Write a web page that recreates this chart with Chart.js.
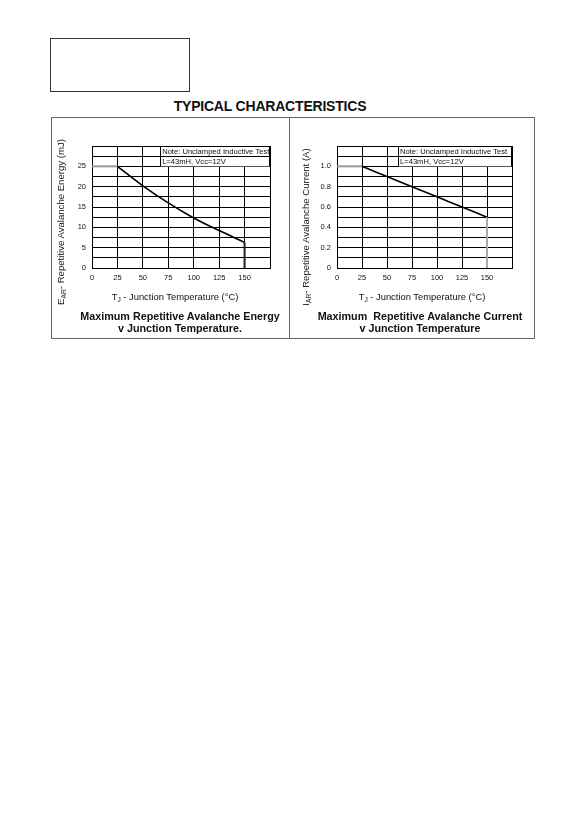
<!DOCTYPE html>
<html>
<head>
<meta charset="utf-8">
<script src="https://cdn.jsdelivr.net/npm/chart.js@4/dist/chart.umd.min.js"></script>
<style>
  html, body { margin:0; padding:0; background:#fff; }
  body { width:583px; height:826px; position:relative; overflow:hidden; font-family:"Liberation Sans", Arial, sans-serif; color:#111; }
  .abs { position:absolute; }
  #smallbox { left:50px; top:38px; width:138px; height:52px; border:1.5px solid #333; }
  #heading { left:120px; width:300px; top:98px; text-align:center; font-weight:bold; font-size:14px; line-height:16px; letter-spacing:-0.2px; }
  #frame { left:51px; top:117px; width:482px; height:220px; border:1px solid #666; }
  #divider { left:289px; top:117px; width:1px; height:221px; background:#666; }
  canvas { position:absolute; }
  .ytitle { width:240px; text-align:center; font-size:9.6px; line-height:10px; transform:rotate(-90deg); transform-origin:50% 50%; white-space:nowrap; }
  .xtitle { width:220px; text-align:center; font-size:9.4px; line-height:10px; white-space:nowrap; }
  .caption { width:260px; text-align:center; font-weight:bold; font-size:10.75px; line-height:12px; white-space:pre; }
  sub { font-size:70%; vertical-align:-2px; line-height:0; }
</style>
</head>
<body>
<div id="smallbox" class="abs"></div>
<div id="heading" class="abs">TYPICAL CHARACTERISTICS</div>
<div id="frame" class="abs"></div>
<div id="divider" class="abs"></div>

<canvas id="c1" width="236" height="170" style="left:52px;top:120px;"></canvas>
<canvas id="c2" width="236" height="170" style="left:297px;top:120px;"></canvas>

<div class="abs ytitle" style="left:-59px;top:217px;">E<sub>AR</sub>- Repetitive Avalanche Energy (mJ)</div>
<div class="abs ytitle" style="left:186px;top:222px;">I<sub>AR</sub>- Repetitive Avalanche Current (A)</div>
<div class="abs xtitle" style="left:65px;top:292px;">T<sub>J</sub> - Junction Temperature (°C)</div>
<div class="abs xtitle" style="left:312px;top:292px;">T<sub>J</sub> - Junction Temperature (°C)</div>
<div class="abs caption" style="left:50px;top:310px;">Maximum Repetitive Avalanche Energy
v Junction Temperature.</div>
<div class="abs caption" style="left:290px;top:310px;">Maximum  Repetitive Avalanche Current
v Junction Temperature</div>

<script>
// ---- data ----
const tempTicks = [0, 25, 50, 75, 100, 125, 150];
const energyTemp = [25, 50, 75, 100, 125, 150];
const energyValues = [25, 20.2, 16, 12.3, 9.2, 6.3];
const energyTicks = [0, 5, 10, 15, 20, 25];
const currentTemp = [25, 50, 75, 100, 125, 150];
const currentValues = [1.0, 0.9, 0.8, 0.7, 0.6, 0.5];
const currentTicks = [0, 0.2, 0.4, 0.6, 0.8, 1.0];
const noteLines = ['Note: Unclamped Inductive Test', 'L=43mH, Vcc=12V'];

function pts(xs, ys) { return xs.map((x, i) => ({x: x, y: ys[i]})); }

function makeChart(id, cfg) {
  const ctx = document.getElementById(id);
  const notePlugin = {
    id: 'note',
    beforeDatasetsDraw(chart) {
      const c = chart.ctx, xs = chart.scales.x, ys = chart.scales.y;
      const x0 = xs.getPixelForValue(cfg.noteX), x1 = chart.chartArea.right;
      const y0 = chart.chartArea.top, yMid = ys.getPixelForValue(cfg.noteMid), y1 = ys.getPixelForValue(cfg.noteBottom);
      c.save();
      c.fillStyle = '#fff';
      c.fillRect(x0, y0, x1 - x0, y1 - y0);
      c.strokeStyle = '#000';
      c.lineWidth = 1;
      c.beginPath();
      c.moveTo(Math.round(x0) + 0.5, y0); c.lineTo(Math.round(x0) + 0.5, y1);
      c.moveTo(x0, Math.round(yMid) + 0.5); c.lineTo(x1, Math.round(yMid) + 0.5);
      c.moveTo(x0, Math.round(y0) + 0.5); c.lineTo(x1, Math.round(y0) + 0.5);
      c.moveTo(Math.round(x1) - 0.5, y0); c.lineTo(Math.round(x1) - 0.5, y1);
      c.stroke();
      c.fillStyle = '#111';
      c.font = '7.6px "Liberation Sans", Arial, sans-serif';
      c.textBaseline = 'middle';
      c.fillText(noteLines[0], x0 + 2, (y0 + yMid) / 2 + 0.5);
      c.fillText(noteLines[1], x0 + 2, (yMid + y1) / 2 + 0.5);
      c.restore();
    }
  };
  return new Chart(ctx, {
    type: 'line',
    data: {
      datasets: [
        { data: cfg.startSeg, borderColor: '#999', borderWidth: 2, pointRadius: 0, tension: 0 },
        { data: cfg.endSeg, borderColor: cfg.endColor, borderWidth: 2, pointRadius: 0, tension: 0 },
        { data: cfg.main, borderColor: '#000', borderWidth: 1.6, pointRadius: 0, cubicInterpolationMode: 'monotone' }
      ]
    },
    options: {
      responsive: false,
      animation: false,
      events: [],
      layout: { padding: { left: 0, top: 26, right: cfg.padRight, bottom: 0 } },
      plugins: { legend: { display: false }, tooltip: { enabled: false } },
      scales: {
        x: {
          type: 'linear', min: 0, max: 175,
          afterFit: s => { s.height = 22; },
          ticks: {
            stepSize: 25, padding: 5, color: '#111', maxTicksLimit: 20,
            font: { family: '"Liberation Sans", Arial, sans-serif', size: 7.5 },
            maxRotation: 0, autoSkip: false,
            callback: v => tempTicks.includes(v) ? String(v) : ''
          },
          grid: { color: '#000', lineWidth: 1, drawTicks: false },
          border: { color: '#000', width: 1 }
        },
        y: {
          type: 'linear', min: 0, max: cfg.yMax,
          afterFit: s => { s.width = 40; },
          ticks: {
            stepSize: cfg.yStep, padding: 6, color: '#111', maxTicksLimit: 20, autoSkip: false,
            font: { family: '"Liberation Sans", Arial, sans-serif', size: 7.5 },
            callback: v => {
              const t = cfg.yTicks.find(t => Math.abs(t - v) < 1e-6);
              if (t === undefined) return '';
              return t === 0 ? '0' : cfg.fmt(t);
            }
          },
          grid: { color: '#000', lineWidth: 1, drawTicks: false },
          border: { color: '#000', width: 1 }
        }
      }
    },
    plugins: [notePlugin]
  });
}

makeChart('c1', {
  main: pts(energyTemp, energyValues),
  startSeg: [{x: 0, y: energyValues[0]}, {x: energyTemp[0], y: energyValues[0]}],
  endSeg: [{x: 150, y: energyValues[energyValues.length - 1]}, {x: 150, y: 0}],
  endColor: '#222',
  yMax: 30, yStep: 2.5, yTicks: energyTicks, fmt: t => String(t),
  noteX: 67, noteMid: 27.5, noteBottom: 25, padRight: 18
});

makeChart('c2', {
  main: pts(currentTemp, currentValues),
  startSeg: [{x: 0, y: currentValues[0]}, {x: currentTemp[0], y: currentValues[0]}],
  endSeg: [{x: 150, y: currentValues[currentValues.length - 1]}, {x: 150, y: 0}],
  endColor: '#aaa',
  yMax: 1.2, yStep: 0.1, yTicks: currentTicks, fmt: t => t.toFixed(1),
  noteX: 61, noteMid: 1.1, noteBottom: 1.0, padRight: 21
});
</script>
</body>
</html>
